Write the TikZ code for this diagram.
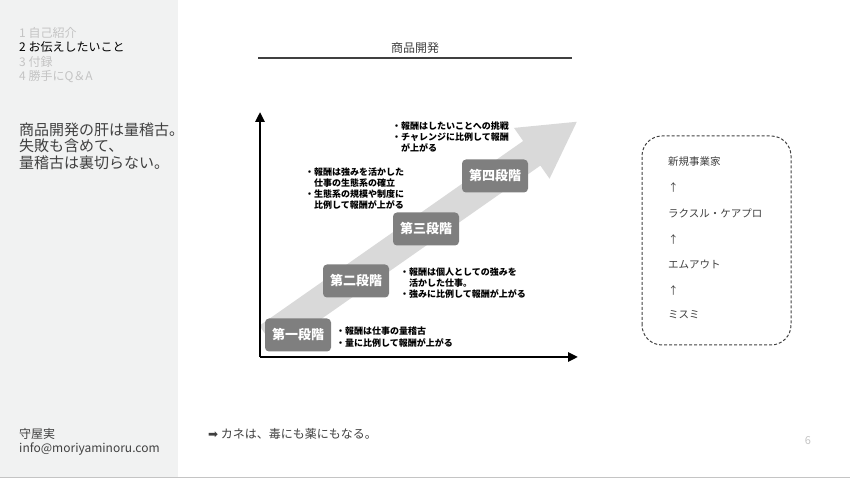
\documentclass[tikz,border=0pt]{standalone}
\usepackage{fontspec}
\setmainfont{Noto Sans CJK JP}
\newfontfamily\symfont{DejaVu Sans}
\usetikzlibrary{arrows.meta}

\definecolor{panelgrau}{HTML}{F1F2F2}
\definecolor{menugrau}{HTML}{C4C4C4}
\definecolor{textgrau}{HTML}{404040}
\definecolor{stufengrau}{HTML}{7F7F7F}
\definecolor{pfeilgrau}{HTML}{D9D9D9}

\tikzset{
  stufe/.style={fill=stufengrau, rounded corners=4pt, minimum width=66pt, minimum height=33pt,
    inner sep=0pt, text=white, font=\fontsize{13}{15}\selectfont\bfseries},
  notiz/.style={anchor=north west, inner sep=0pt, align=left,
    font=\fontsize{9}{11}\selectfont\bfseries},
  links/.style={anchor=west, inner sep=0pt}
}

\begin{document}
\begin{tikzpicture}[x=1pt,y=1pt]
		\useasboundingbox (0,0) rectangle (850,478);
		% Seitenleiste links und Trennlinie unten
		\fill[panelgrau] (0,0) rectangle (178,478);
		\draw[menugrau, line width=1.2pt] (0,0.6) -- (850,0.6);

		% Gliederung
		\node[links, text=menugrau, font=\fontsize{12}{14}\selectfont] (m1) at (19,445) {1 自己紹介};
		\node[links, text=black, font=\fontsize{12}{14}\selectfont] (m2) at (19,431) {2 お伝えしたいこと};
		\node[links, text=menugrau, font=\fontsize{12}{14}\selectfont] (m3) at (19,416) {3 付録};
		\node[links, text=menugrau, font=\fontsize{12}{14}\selectfont] (m4) at (19,401) {4 勝手にQ＆A};

		% Kernaussage
		\node[anchor=north west, inner sep=0pt, align=left, text=textgrau,
		  font=\fontsize{15}{16.5}\selectfont] (kern) at (19,355.5)
		  {商品開発の肝は量稽古。\\失敗も含めて、\\量稽古は裏切らない。};

		% Fusszeile
		\node[links, text=textgrau, font=\fontsize{12}{14}\selectfont] (name) at (19,44) {守屋実};
		\node[links, text=textgrau, font=\fontsize{12}{14}\selectfont] (mail) at (19,29) {info@moriyaminoru.com};
		\node[links, text=textgrau, font=\fontsize{12}{14}\selectfont] (fazit) at (208,44)
		  {{\symfont\fontsize{12}{14}\selectfont ➡} カネは、毒にも薬にもなる。};
		\node[text=menugrau, font=\fontsize{11}{13}\selectfont, inner sep=0pt] (seite) at (808,37) {6};

		% Titel mit Linie
		\node[text=textgrau, font=\fontsize{12}{14}\selectfont, inner sep=0pt] (titel) at (415,430) {商品開発};
		\draw[textgrau, line width=1.8pt] (258,420) -- (572,420);

		% grosser Pfeil im Hintergrund
		\begin{scope}[shift={(268,140)}, rotate=35]
			\fill[pfeilgrau] (0,-15) -- (322,-15) -- (322,-31) -- (377,0) -- (322,31) -- (322,15) -- (0,15) -- cycle;
		\end{scope}

		% Achsen
		\coordinate (ursprung) at (260,121);
		\coordinate (yende) at (260,366);
		\coordinate (xende) at (578,121);
		\draw[line width=2.8pt, -{Triangle[width=9pt,length=10pt]}] (ursprung) -- (yende);
		\draw[line width=2.8pt, -{Triangle[width=9pt,length=10pt]}] (ursprung) -- (xende);

		% Stufen
		\node[stufe] (s1) at (298,143) {第一段階};
		\node[stufe] (s2) at (356,197) {第二段階};
		\node[stufe] (s3) at (426,249) {第三段階};
		\node[stufe] (s4) at (495,302) {第四段階};

		% Erlaeuterungen zu den Stufen
		\node[notiz, font=\fontsize{9}{12}\selectfont\bfseries] (n1) at (336,151.5)
		  {・報酬は仕事の量稽古\\・量に比例して報酬が上がる};
		\node[notiz] (n2) at (400,210.5)
		  {・報酬は個人としての強みを\\　活かした仕事。\\・強みに比例して報酬が上がる};
		\node[notiz] (n3) at (305,310.5)
		  {・報酬は強みを活かした\\　仕事の生態系の確立\\・生態系の規模や制度に\\　比例して報酬が上がる};
		\node[notiz] (n4) at (392,356.5)
		  {・報酬はしたいことへの挑戦\\・チャレンジに比例して報酬\\　が上がる};

		% Werdegang rechts
		\draw[textgrau, line width=1pt, dash pattern=on 3pt off 2pt, rounded corners=20pt]
		  (642,133) rectangle (791,342);
		\node[links, text=textgrau, font=\fontsize{10.5}{12}\selectfont] (w1) at (668,316) {新規事業家};
		\node[links, text=textgrau, font=\fontsize{10.5}{12}\selectfont] (p1) at (668,291) {↑};
		\node[links, text=textgrau, font=\fontsize{10.5}{12}\selectfont] (w2) at (668,265) {ラクスル・ケアプロ};
		\node[links, text=textgrau, font=\fontsize{10.5}{12}\selectfont] (p2) at (668,239) {↑};
		\node[links, text=textgrau, font=\fontsize{10.5}{12}\selectfont] (w3) at (668,214) {エムアウト};
		\node[links, text=textgrau, font=\fontsize{10.5}{12}\selectfont] (p3) at (668,188) {↑};
		\node[links, text=textgrau, font=\fontsize{10.5}{12}\selectfont] (w4) at (668,163) {ミスミ};
	\end{tikzpicture}
\end{document}
